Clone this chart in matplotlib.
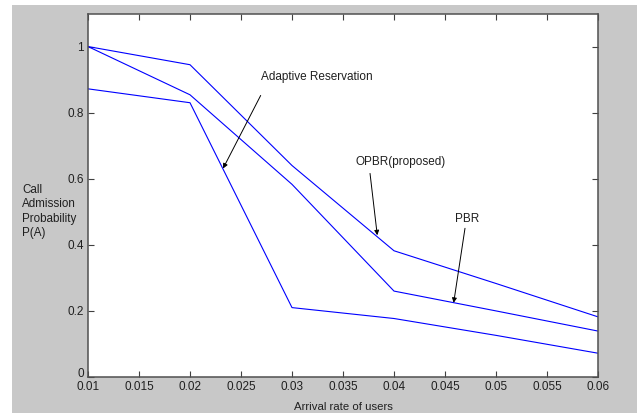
import matplotlib
matplotlib.use('Agg')
import matplotlib.pyplot as plt
from matplotlib.patches import Rectangle

arrival_rate = [0.01, 0.02, 0.03, 0.04, 0.05, 0.06]
opbr = [1.0, 0.945, 0.64, 0.382, 0.283, 0.182]
pbr = [1.0, 0.854, 0.583, 0.26, 0.20, 0.139]
adaptive = [0.872, 0.83, 0.21, 0.177, 0.126, 0.072]

x_ticks = [0.01, 0.015, 0.02, 0.025, 0.03, 0.035, 0.04, 0.045, 0.05, 0.055, 0.06]
x_tick_labels = ['0.01', '0.015', '0.02', '0.025', '0.03', '0.035', '0.04', '0.045', '0.05', '0.055', '0.06']
y_ticks = [0, 0.2, 0.4, 0.6, 0.8, 1.0]
y_tick_labels = ['0', '0.2', '0.4', '0.6', '0.8', '1']
ylabel_lines = ['Call', 'Admission', 'Probability', 'P(A)']

plt.rcParams['font.family'] = ['Liberation Sans', 'DejaVu Sans']
txt_color = '#202020'

fig = plt.figure(figsize=(6.37, 4.13), dpi=100, facecolor='white')
# matlab style gray window, thin white strip on top and left
fig.patches.append(Rectangle((12 / 637, 0), 1, 1 - 5 / 413, transform=fig.transFigure,
                             facecolor='#c8c8c8', edgecolor='none', zorder=-10))

ax = fig.add_axes([88 / 637, 1 - 377 / 413, 510 / 637, 363.5 / 413])
ax.set_zorder(1)
ax.set_facecolor('white')

for series in [opbr, pbr, adaptive]:
    ax.plot(arrival_rate, series, color='#0000ff', linewidth=0.8)

ax.set_xlim(0.01, 0.06)
ax.set_ylim(0, 1.1)
ax.set_xticks(x_ticks)
ax.set_xticklabels(x_tick_labels)
ax.set_yticks(y_ticks)
ax.set_yticklabels(y_tick_labels)
ax.tick_params(direction='in', length=4, width=0.8, top=True, right=True,
               labelsize=8.5, colors='#404040', labelcolor=txt_color, pad=3)
# the "0" sits a bit higher, like in matlab
ax.get_yticklabels()[0].set_verticalalignment('baseline')
for side in ax.spines:
    ax.spines[side].set_color('#505050')
    ax.spines[side].set_linewidth(1.1)

ax.set_xlabel('Arrival rate of users', fontsize=8.2, labelpad=6, color=txt_color)
# horizontal y label, one line per text
for i, line in enumerate(ylabel_lines):
    fig.text(22 / 637, 1 - (190 + 14.3 * i) / 413, line, fontsize=8.4,
             ha='left', va='center', color=txt_color)

arrow = dict(arrowstyle='-|>', color='black', lw=0.7, mutation_scale=7, shrinkA=0, shrinkB=0)
ax.text(0.02696, 0.909, 'Adaptive Reservation', fontsize=8.5, ha='left', va='center', color=txt_color)
ax.annotate('', xy=(0.02324, 0.631), xytext=(0.02693, 0.852), arrowprops=arrow)
ax.text(0.03627, 0.65, 'OPBR(proposed)', fontsize=8.5, ha='left', va='center', color=txt_color)
ax.annotate('', xy=(0.03836, 0.429), xytext=(0.03765, 0.616), arrowprops=arrow)
ax.text(0.04598, 0.477, 'PBR', fontsize=8.5, ha='left', va='center', color=txt_color)
ax.annotate('', xy=(0.04585, 0.2245), xytext=(0.04696, 0.450), arrowprops=arrow)

fig.savefig('out.png', dpi=100, facecolor=fig.get_facecolor())
